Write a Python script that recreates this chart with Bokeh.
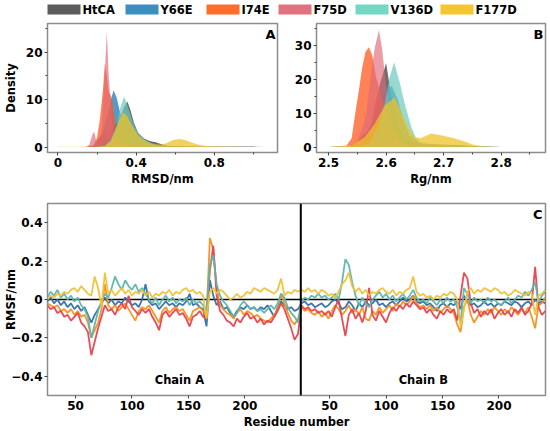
from bokeh.plotting import figure
from bokeh.layouts import column, row
from bokeh.models import (ColumnDataSource, Range1d, FixedTicker, Label, Span)
from bokeh.embed import file_html
from bokeh.resources import INLINE
from bokeh.core.properties import value

FONT = "DejaVu Sans"

# ---------------- data ----------------
variants = ["HtCA", "Y66E", "I74E", "F75D", "V136D", "F177D"]
legend_colors = ["#5c5c5c", "#3a8fc0", "#ff6d2b", "#e0737f", "#72d8c3", "#f4c630"]
fill_colors = ["#3d3d3d", "#1f78b4", "#ff5a1f", "#e06878", "#6cc9bd", "#eec22a"]
fill_alphas = [0.75, 0.75, 0.75, 0.65, 0.7, 0.75]

# Panel A: RMSD density
rmsd_x_htca = [0.0, 0.15, 0.19, 0.22, 0.24, 0.26, 0.28, 0.30, 0.32, 0.34, 0.355, 0.37, 0.39,
               0.41, 0.44, 0.47, 0.50, 0.53, 0.56, 0.62, 0.70, 0.80, 0.90, 1.0, 1.06]
rmsd_y_htca = [0.0, 0.0, 0.5, 2.5, 2.8, 2.0, 3.5, 5.0, 6.5, 8.5, 9.6, 8.0, 5.0,
               3.0, 1.8, 1.3, 1.0, 0.6, 0.3, 0.2, 0.15, 0.1, 0.15, 0.1, 0.0]
rmsd_x_y66e = [0.0, 0.15, 0.19, 0.22, 0.25, 0.27, 0.285, 0.30, 0.32, 0.34, 0.36, 0.38, 0.40,
               0.43, 0.46, 0.50, 0.55, 0.60, 0.70, 0.80, 0.90]
rmsd_y_y66e = [0, 0, 0.3, 2.0, 6.0, 10.0, 12.0, 10.5, 7.0, 5.5, 4.5, 3.5, 2.5,
               1.8, 1.2, 0.6, 0.3, 0.1, 0.05, 0.02, 0]
rmsd_x_i74e = [0.0, 0.15, 0.18, 0.20, 0.215, 0.23, 0.24, 0.25, 0.26, 0.27, 0.28, 0.29, 0.30,
               0.32, 0.35, 0.40, 0.45, 0.50]
rmsd_y_i74e = [0, 0, 0.3, 2.0, 6.0, 12.0, 17.6, 15.0, 11.5, 11.0, 9.0, 6.0, 3.0,
               1.5, 0.5, 0.2, 0.05, 0]
rmsd_x_f75d = [0.0, 0.14, 0.16, 0.175, 0.185, 0.195, 0.21, 0.225, 0.24, 0.25, 0.26, 0.275,
               0.29, 0.31, 0.34, 0.40]
rmsd_y_f75d = [0, 0, 0.5, 2.5, 3.3, 1.5, 1.0, 4.0, 16.0, 24.3, 15.0, 6.0,
               2.0, 0.6, 0.1, 0]
rmsd_x_v136d = [0.0, 0.20, 0.24, 0.27, 0.30, 0.32, 0.338, 0.35, 0.37, 0.39, 0.41, 0.43,
                0.45, 0.48, 0.52, 0.58, 0.65]
rmsd_y_v136d = [0, 0, 0.3, 1.5, 4.5, 8.5, 10.6, 9.5, 7.0, 4.5, 3.0, 2.2,
                1.5, 0.7, 0.3, 0.1, 0]
rmsd_x_f177d = [0.0, 0.20, 0.24, 0.27, 0.29, 0.31, 0.332, 0.35, 0.37, 0.39, 0.41, 0.44,
                0.47, 0.50, 0.53, 0.56, 0.59, 0.62, 0.65, 0.68, 0.72, 0.76, 0.80, 0.90, 1.00]
rmsd_y_f177d = [0.05, 0.05, 0.2, 1.2, 3.0, 5.5, 7.3, 6.8, 5.2, 3.8, 2.5, 1.5,
                0.9, 0.6, 0.5, 0.9, 1.5, 1.7, 1.5, 1.0, 0.5, 0.25, 0.1, 0.05, 0]

# Panel B: Rg density
rg_x_htca = [2.50, 2.535, 2.55, 2.56, 2.567, 2.575, 2.58, 2.59, 2.60, 2.609, 2.618, 2.63,
             2.64, 2.65, 2.67, 2.70, 2.73, 2.76, 2.80]
rg_y_htca = [0, 0.1, 1.5, 3.5, 4.5, 7.0, 12.0, 19.0, 24.8, 15.0, 8.0, 3.5,
             1.8, 1.2, 0.8, 0.7, 0.5, 0.2, 0]
rg_x_y66e = [2.50, 2.54, 2.56, 2.58, 2.59, 2.60, 2.61, 2.62, 2.63, 2.64, 2.66, 2.70, 2.75, 2.80]
rg_y_y66e = [0, 0.2, 2.0, 8.0, 13.0, 17.0, 18.0, 14.0, 8.0, 3.5, 1.0, 0.5, 0.2, 0]
rg_x_i74e = [2.50, 2.53, 2.54, 2.546, 2.552, 2.558, 2.564, 2.57, 2.576, 2.582, 2.59, 2.60,
             2.61, 2.62, 2.63, 2.65, 2.70, 2.75]
rg_y_i74e = [0, 0.2, 2.5, 9.5, 16.0, 23.0, 28.0, 29.4, 27.0, 21.0, 16.0, 10.0,
             5.0, 2.5, 1.2, 0.5, 0.2, 0]
rg_x_f75d = [2.50, 2.54, 2.55, 2.56, 2.565, 2.575, 2.58, 2.5875, 2.593, 2.598, 2.606, 2.612,
             2.618, 2.625, 2.632, 2.645, 2.66, 2.70, 2.75]
rg_y_f75d = [0, 0.3, 2.0, 6.0, 9.5, 23.0, 29.0, 34.5, 29.0, 21.0, 11.0, 6.5,
             4.0, 2.0, 1.0, 0.5, 0.3, 0.1, 0]
rg_x_v136d = [2.50, 2.55, 2.57, 2.586, 2.598, 2.606, 2.614, 2.624, 2.632, 2.644, 2.652, 2.66,
              2.68, 2.70, 2.75, 2.80]
rg_y_v136d = [0, 0.2, 1.0, 6.0, 13.0, 20.6, 25.0, 18.8, 13.0, 5.8, 2.6, 1.5,
              0.8, 0.6, 0.3, 0]
rg_x_f177d = [2.50, 2.54, 2.563, 2.58, 2.598, 2.615, 2.626, 2.638, 2.649, 2.66, 2.678, 2.695,
              2.718, 2.735, 2.752, 2.77, 2.80]
rg_y_f177d = [0, 0.5, 3.0, 6.8, 12.3, 14.6, 10.5, 5.8, 3.0, 2.6, 4.0, 3.5,
              2.6, 1.7, 0.7, 0.2, 0]

# Panel C: RMSF difference per residue (chain A residues 25..247, chain B 25..241, step 3)
res_a = list(range(25, 248, 3))
res_b = list(range(25, 242, 3))
chain_offset = 225
chain_ticks = [50, 100, 150, 200]
rmsf_ticks = [-0.4, -0.2, 0, 0.2, 0.4]
rmsf_tick_labels = ["\u22120.4", "\u22120.2", "0", "0.2", "0.4"]

rmsf_a_y66e = [-0.01, 0.01, -0.02, 0.00, -0.03, -0.01, -0.04, -0.02, -0.05, -0.03, -0.06, -0.04, -0.08, -0.12, -0.08,
               -0.05, -0.02, 0.01, -0.02, 0.00, -0.03, -0.01, -0.02, 0.01, -0.01, -0.03, -0.02, -0.04, 0.00, 0.08,
               -0.01, -0.03, -0.02, -0.05, -0.03, -0.01, -0.03, -0.02, -0.04, -0.02, -0.03, -0.01, 0.03, -0.03, -0.02,
               -0.04, -0.05, -0.14, 0.10, 0.02, -0.03, -0.01, -0.05, -0.04, -0.07, -0.09, -0.06, -0.04, -0.05, -0.03,
               -0.05, -0.04, -0.06, -0.04, -0.05, -0.03, -0.06, -0.09, -0.04, -0.01, -0.03, -0.05, -0.04, -0.06, -0.05]
rmsf_b_y66e = [-0.02, -0.01, -0.03, -0.02, -0.04, -0.03, -0.02, -0.04, -0.03, -0.01, 0.00, -0.02, -0.05, -0.04, -0.01,
               -0.03, -0.06, -0.02, -0.04, -0.01, -0.03, -0.02, 0.00, -0.03, -0.02, -0.04, -0.02, -0.01, -0.03, -0.01,
               0.01, -0.01, 0.00, 0.02, -0.01, -0.02, -0.01, -0.03, -0.02, -0.04, -0.06, -0.03, -0.02, -0.04, -0.02,
               -0.03, -0.01, -0.05, 0.02, -0.01, -0.03, -0.02, -0.04, -0.03, -0.01, -0.03, -0.02, -0.04, -0.02, -0.03,
               -0.01, -0.02, -0.03, -0.01, -0.02, -0.04, -0.02, -0.01, -0.03, 0.00, -0.02, -0.01, -0.02]

rmsf_a_i74e = [-0.02, -0.03, -0.04, -0.03, -0.06, -0.05, -0.07, -0.05, -0.08, -0.06, -0.09, -0.08, -0.12, -0.20, -0.16,
               -0.12, -0.05, 0.08, -0.03, -0.05, -0.03, -0.06, -0.04, -0.02, -0.05, -0.08, -0.11, -0.06, -0.04, -0.05,
               -0.03, -0.06, -0.09, -0.12, -0.06, -0.04, -0.07, -0.05, -0.04, -0.06, -0.05, -0.08, -0.11, -0.06, -0.05,
               -0.04, -0.06, -0.09, 0.32, 0.26, 0.06, -0.03, -0.05, -0.07, -0.08, -0.10, -0.07, -0.05, -0.08, -0.06,
               -0.07, -0.09, -0.08, -0.10, -0.11, -0.12, -0.10, -0.08, -0.05, 0.03, -0.02, -0.07, -0.11, -0.13, -0.10]
rmsf_b_i74e = [-0.04, -0.06, -0.05, -0.07, -0.08, -0.06, -0.09, -0.07, -0.10, -0.06, -0.03, -0.05, -0.08, -0.06, -0.03,
               -0.07, -0.05, -0.08, -0.04, -0.10, -0.11, -0.06, -0.08, -0.04, -0.07, -0.05, -0.03, -0.06, -0.02, -0.04,
               -0.01, -0.03, -0.01, 0.02, -0.02, -0.04, -0.03, -0.05, -0.03, -0.06, -0.04, -0.07, -0.05, -0.03, -0.05,
               -0.07, -0.13, -0.17, -0.04, 0.00, -0.08, -0.12, -0.09, -0.06, -0.08, -0.05, -0.07, -0.04, -0.06, -0.08,
               -0.05, -0.07, -0.04, -0.06, -0.08, -0.05, -0.07, -0.04, -0.09, -0.15, -0.03, -0.02, 0.01]

rmsf_a_f75d = [-0.03, -0.05, -0.04, -0.07, -0.06, -0.09, -0.08, -0.11, -0.09, -0.07, -0.12, -0.14, -0.17, -0.29, -0.22,
               -0.15, -0.09, -0.03, -0.06, -0.05, -0.08, -0.04, -0.02, -0.05, 0.02, -0.04, -0.06, -0.08, -0.05, -0.07,
               -0.05, -0.09, -0.12, -0.16, -0.08, -0.06, -0.09, -0.07, -0.05, -0.08, -0.07, -0.10, -0.14, -0.09, -0.08,
               -0.06, -0.09, -0.10, 0.15, 0.28, 0.02, -0.06, -0.08, -0.11, -0.12, -0.14, -0.10, -0.12, -0.09, -0.07,
               -0.10, -0.09, -0.12, -0.10, -0.13, -0.11, -0.12, -0.09, -0.06, -0.02, -0.05, -0.10, -0.15, -0.21, -0.18]
rmsf_b_f75d = [-0.03, -0.05, -0.04, -0.06, -0.05, -0.07, -0.06, -0.08, -0.06, -0.09, -0.04, 0.00, -0.10, -0.19, -0.08,
               -0.05, -0.10, -0.07, -0.12, -0.06, 0.06, -0.08, -0.11, -0.06, -0.09, -0.12, -0.07, -0.04, -0.06, -0.03,
               -0.05, -0.02, -0.04, -0.01, -0.03, -0.05, -0.04, -0.07, -0.05, -0.08, -0.10, -0.06, -0.08, -0.05, -0.07,
               -0.05, -0.11, 0.02, 0.14, 0.11, -0.02, -0.07, -0.05, -0.09, -0.06, -0.08, -0.05, -0.10, -0.07, -0.05,
               -0.08, -0.06, -0.09, -0.05, -0.07, -0.04, -0.08, -0.06, -0.02, 0.17, -0.04, -0.08, -0.06]

rmsf_a_v136d = [0.01, 0.04, 0.02, 0.05, 0.01, 0.03, 0.00, 0.02, -0.01, 0.01, -0.03, -0.05, -0.09, -0.20, -0.13,
                -0.06, -0.01, 0.03, 0.01, 0.06, 0.12, 0.08, 0.05, 0.10, 0.07, 0.05, 0.08, 0.04, 0.06, 0.03,
                0.00, -0.02, 0.01, -0.03, 0.00, 0.02, -0.01, 0.01, -0.02, 0.00, -0.01, 0.01, -0.03, 0.00, -0.02,
                -0.01, -0.03, -0.06, 0.18, 0.23, 0.08, 0.02, -0.01, -0.03, -0.06, -0.09, -0.07, -0.03, -0.01, -0.03,
                -0.05, -0.04, -0.06, -0.05, -0.07, -0.05, -0.03, -0.05, -0.02, 0.03, 0.01, -0.04, -0.07, -0.09, -0.12]
rmsf_b_v136d = [-0.01, 0.01, 0.00, 0.02, 0.01, 0.03, 0.01, 0.02, 0.00, 0.01, 0.03, 0.00, 0.09, 0.21, 0.18,
                0.09, 0.02, -0.03, 0.01, -0.02, -0.04, 0.00, 0.02, 0.04, 0.01, 0.03, 0.00, 0.02, -0.01, 0.01,
                0.03, 0.00, 0.02, 0.05, 0.01, -0.01, 0.00, -0.02, 0.01, -0.01, -0.03, 0.00, -0.02, 0.01, -0.01,
                0.00, -0.04, -0.12, 0.06, 0.03, -0.02, 0.01, -0.01, 0.00, -0.02, 0.01, -0.01, 0.00, -0.02, -0.03,
                -0.01, 0.01, -0.02, 0.00, 0.02, 0.01, 0.04, 0.02, 0.05, 0.09, -0.01, 0.02, 0.04]

rmsf_a_f177d = [0.00, 0.02, 0.01, 0.03, 0.02, 0.04, 0.03, 0.05, 0.06, 0.04, 0.07, 0.05, 0.03, 0.02, 0.12,
                0.06, -0.04, 0.14, 0.03, 0.05, 0.02, 0.04, 0.06, 0.03, 0.05, 0.02, 0.04, 0.03, 0.05, 0.02,
                0.04, 0.01, 0.03, 0.02, 0.04, 0.03, 0.05, 0.02, 0.04, 0.03, 0.05, 0.06, 0.04, 0.05, 0.03,
                0.04, 0.02, -0.10, 0.04, 0.06, 0.03, 0.05, 0.04, 0.02, 0.00, 0.01, 0.03, 0.01, 0.02, 0.04,
                0.03, 0.06, 0.05, 0.04, 0.06, 0.05, 0.04, 0.03, 0.05, 0.11, 0.02, 0.04, 0.03, 0.05, 0.04]
rmsf_b_f177d = [0.05, 0.04, 0.06, 0.04, 0.05, 0.03, 0.05, 0.04, 0.02, 0.03, 0.01, 0.04, 0.08, 0.10, 0.14,
                0.07, 0.04, 0.06, 0.03, 0.05, 0.02, 0.04, 0.03, 0.05, 0.06, 0.04, 0.03, 0.05, 0.02, 0.04,
                0.03, 0.05, 0.06, 0.12, 0.04, 0.02, 0.03, 0.01, 0.02, 0.00, 0.02, 0.01, 0.03, 0.02, 0.04,
                0.03, 0.00, -0.14, -0.05, 0.04, 0.06, 0.03, 0.05, 0.04, 0.06, 0.05, 0.04, 0.06, 0.05, 0.03,
                0.04, 0.02, 0.03, 0.05, 0.04, 0.03, 0.02, 0.04, 0.03, -0.08, 0.02, 0.03, 0.05]

rmsf_variants = ["Y66E", "I74E", "F75D", "V136D", "F177D"]
rmsf_colors = ["#3070a8", "#f7901e", "#e8424c", "#5db5ae", "#efc239"]

# ---------------- helpers ----------------
FRAME = "#8c8c8c"


def style(p):
    p.outline_line_color = FRAME
    p.outline_line_width = 1.5
    p.xgrid.visible = False
    p.ygrid.visible = False
    p.background_fill_color = "white"
    p.border_fill_color = "white"
    for ax in p.axis:
        ax.axis_line_color = None
        ax.major_tick_line_color = "#444444"
        ax.minor_tick_line_color = "#444444"
        ax.major_tick_out = 3
        ax.major_tick_in = 0
        ax.minor_tick_out = 2
        ax.minor_tick_in = 0
        ax.major_label_standoff = 2
        ax.axis_label_standoff = 2
        ax.major_label_text_font = FONT
        ax.major_label_text_font_style = "bold"
        ax.major_label_text_font_size = "12px"
        ax.major_label_text_color = "black"
        ax.axis_label_text_font = FONT
        ax.axis_label_text_font_style = "bold"
        ax.axis_label_text_font_size = "11.5px"
        ax.axis_label_text_color = "black"


def corner_label(p, text, x, y):
    p.add_layout(Label(x=x, y=y, text=text, text_align="right", text_baseline="top",
                       text_font=FONT, text_font_style="bold", text_font_size="13px",
                       text_color="black"))


# ---------------- legend strip (pixel-scaled key) ----------------
legend_left = [47, 125, 206, 278, 355, 440]   # key positions in px across the strip
SW_W = 33
pL = figure(width=550, height=20, output_backend="svg", toolbar_location=None,
            x_range=Range1d(0, 550), y_range=Range1d(0, 20),
            x_axis_location=None, y_axis_location=None, min_border=0)
pL.frame_align = False
pL.outline_line_color = None
pL.xgrid.visible = False
pL.ygrid.visible = False
key_src = ColumnDataSource(dict(
    left=legend_left,
    right=[v + SW_W for v in legend_left],
    tx=[v + SW_W + 2 for v in legend_left],
    color=legend_colors,
    label=variants,
))
pL.quad(left="left", right="right", bottom=6, top=16, fill_color="color", line_color=None,
        source=key_src)
pL.text(x="tx", y=11, text="label", source=key_src, text_font=value(FONT),
        text_font_style="bold", text_font_size="11.5px", text_baseline="middle",
        text_align="left", text_color="black")

# ---------------- panel A ----------------
pA = figure(width=291, height=168, output_backend="svg", toolbar_location=None,
            x_range=Range1d(-0.0535, 1.1235), y_range=Range1d(-1.14, 26.06),
            min_border_left=47, min_border_right=14, min_border_top=3, min_border_bottom=29,
            x_axis_label="RMSD/nm", y_axis_label="Density")
rmsd_series = [(rmsd_x_htca, rmsd_y_htca), (rmsd_x_y66e, rmsd_y_y66e), (rmsd_x_i74e, rmsd_y_i74e),
               (rmsd_x_f75d, rmsd_y_f75d), (rmsd_x_v136d, rmsd_y_v136d), (rmsd_x_f177d, rmsd_y_f177d)]
for (xs, ys), c, a in zip(rmsd_series, fill_colors, fill_alphas):
    pA.varea(x="x", y1=0, y2="y", source=ColumnDataSource(dict(x=xs, y=ys)),
             fill_color=c, fill_alpha=a)
style(pA)
pA.yaxis.axis_label_standoff = 5
pA.xaxis.ticker = FixedTicker(ticks=[0, 0.4, 0.8], minor_ticks=[0.2, 0.6, 1.0])
pA.xaxis.major_label_overrides = {0: "0", 0.4: "0.4", 0.8: "0.8"}
pA.yaxis.ticker = FixedTicker(ticks=[0, 10, 20], minor_ticks=[5, 15, 25])
corner_label(pA, "A", 1.113, 25.3)

# ---------------- panel B ----------------
pB = figure(width=259, height=168, output_backend="svg", toolbar_location=None,
            x_range=Range1d(2.479, 2.877), y_range=Range1d(-1.6, 36.4),
            min_border_left=22, min_border_right=5, min_border_top=3, min_border_bottom=29,
            x_axis_label="Rg/nm")
rg_series = [(rg_x_htca, rg_y_htca), (rg_x_y66e, rg_y_y66e), (rg_x_i74e, rg_y_i74e),
             (rg_x_f75d, rg_y_f75d), (rg_x_v136d, rg_y_v136d), (rg_x_f177d, rg_y_f177d)]
for (xs, ys), c, a in zip(rg_series, fill_colors, fill_alphas):
    pB.varea(x="x", y1=0, y2="y", source=ColumnDataSource(dict(x=xs, y=ys)),
             fill_color=c, fill_alpha=a)
style(pB)
pB.xaxis.ticker = FixedTicker(ticks=[2.5, 2.6, 2.7, 2.8], minor_ticks=[2.55, 2.65, 2.75, 2.85])
pB.yaxis.ticker = FixedTicker(ticks=[0, 10, 20, 30], minor_ticks=[5, 15, 25, 35])
corner_label(pB, "B", 2.8735, 35.3)

# ---------------- panel C ----------------
pC = figure(width=550, height=243, output_backend="svg", toolbar_location=None,
            x_range=Range1d(25.2, 466.2), y_range=Range1d(-0.5, 0.5),
            min_border_left=47, min_border_right=5, min_border_top=15, min_border_bottom=34,
            x_axis_label="Residue number", y_axis_label="RMSF/nm")
pC.add_layout(Span(location=0, dimension="width", line_color="black", line_width=1.5,
                   level="underlay"))
x_all = res_a + [r + chain_offset for r in res_b]
rmsf_series = [rmsf_a_y66e + rmsf_b_y66e, rmsf_a_i74e + rmsf_b_i74e, rmsf_a_f75d + rmsf_b_f75d,
               rmsf_a_v136d + rmsf_b_v136d, rmsf_a_f177d + rmsf_b_f177d]
for ys, c in zip(rmsf_series, rmsf_colors):
    pC.line(x="x", y="y", source=ColumnDataSource(dict(x=x_all, y=ys)),
            line_color=c, line_width=1.8, line_alpha=0.95)
pC.add_layout(Span(location=res_a[-1] + 2.5, dimension="height", line_color="black",
                   line_width=2))
style(pC)
pC.yaxis.axis_label_standoff = -10
pC.xaxis.ticker = FixedTicker(ticks=chain_ticks + [t + chain_offset for t in chain_ticks])
pC.xaxis.major_label_overrides = {t + chain_offset: str(t) for t in chain_ticks}
pC.yaxis.ticker = FixedTicker(ticks=rmsf_ticks)
pC.yaxis.major_label_overrides = dict(zip(rmsf_ticks, rmsf_tick_labels))
for txt, xc in (("Chain A", 142), ("Chain B", 358)):
    pC.add_layout(Label(x=xc, y=-0.42, text=txt, text_align="center", text_baseline="middle",
                        text_font=FONT, text_font_style="bold", text_font_size="11.5px",
                        text_color="black"))
corner_label(pC, "C", 463.5, 0.48)

layout = column(pL, row(pA, pB), pC)
open("out.html", "w").write(file_html(layout, INLINE))
